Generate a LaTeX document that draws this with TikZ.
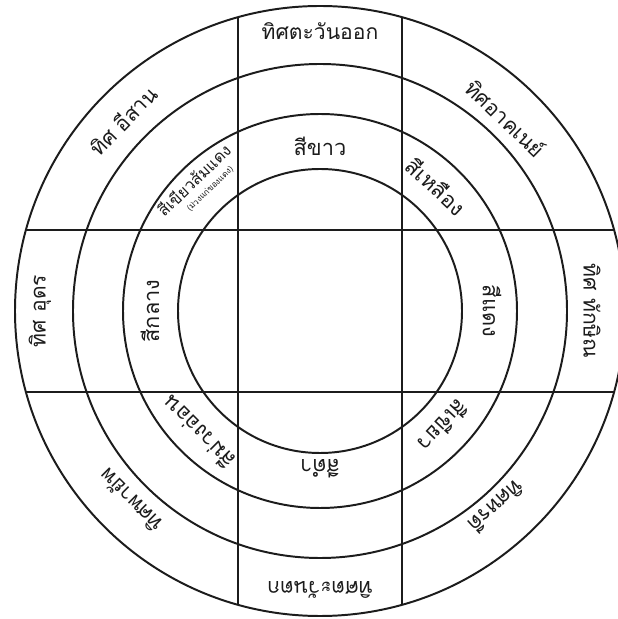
\documentclass[tikz,border=0pt]{standalone}
\usepackage{fontspec}
\newfontfamily\thaifont[Script=Thai]{Loma}
\usetikzlibrary{calc}
\definecolor{inkdark}{HTML}{1C1C1C}

\tikzset{
  ringline/.style={draw=inkdark, line width=1.4pt},
  dirlabel/.style={text=inkdark, font=\thaifont\fontsize{15}{18}\selectfont, inner sep=0pt},
  colorlabel/.style={text=inkdark, font=\thaifont\fontsize{15.5}{18}\selectfont, inner sep=0pt},
  notelabel/.style={text=inkdark, font=\thaifont\fontsize{6}{7}\selectfont, inner sep=0pt}
}

\begin{document}
\begin{tikzpicture}[x=0.025cm, y=0.025cm]
    \useasboundingbox (0,0) rectangle (618,619);
    \clip (0,0) rectangle (618,619);
    \coordinate (c) at (320,308);

    % Rings
    \foreach \r in {305,247,197,142}
        \draw[ringline] (c) circle (\r);

    % Cross lines
    \draw[ringline] ($(c)+(-82,-293.8)$) -- ($(c)+(-82,293.8)$);
    \draw[ringline] ($(c)+(82,-293.8)$) -- ($(c)+(82,293.8)$);
    \draw[ringline] ($(c)+(-294,81)$) -- ($(c)+(294,81)$);
    \draw[ringline] ($(c)+(-294,-81)$) -- ($(c)+(294,-81)$);

    % Directions
    \node[dirlabel] (east) at ($(c)+(90:280)$) {ทิศตะวันออก};
    \node[dirlabel, rotate=-44] (southeast) at ($(c)+(46:268)$) {ทิศอาคเนย์};
    \node[dirlabel, rotate=-90] (south) at ($(c)+(0:272)$) {ทิศ ทักษิณ};
    \node[dirlabel, rotate=-138] (southwest) at ($(c)+(-48:264)$) {ทิศหรดี};
    \node[dirlabel, rotate=180] (west) at ($(c)+(-90:279)$) {ทิศตะวันตก};
    \node[dirlabel, rotate=135] (northwest) at ($(c)+(225:268)$) {ทิศพายัพ};
    \node[dirlabel, rotate=90] (north) at ($(c)+(180:280)$) {ทิศ อุดร};
    \node[dirlabel, rotate=46] (northeast) at ($(c)+(136:274)$) {ทิศ อีสาน};

    % Colours
    \node[colorlabel] (white) at ($(c)+(90:165)$) {สีขาว};
    \node[colorlabel, rotate=-43] (yellow) at ($(c)+(47:171)$) {สีเหลือง};
    \node[colorlabel, rotate=-90] (red) at ($(c)+(0:172)$) {สีแดง};
    \node[colorlabel, rotate=-133] (green) at ($(c)+(-43:169)$) {สีเขียว};
    \node[colorlabel, rotate=180] (black) at ($(c)+(-90:158)$) {สีดำ};
    \node[colorlabel, rotate=135] (purple) at ($(c)+(225:172)$) {สีม่วงอ่อน};
    \node[colorlabel, rotate=90] (middle) at ($(c)+(180:170)$) {สีกลาง};
    \node[colorlabel, rotate=44, font=\thaifont\fontsize{11.5}{13}\selectfont] (mixed) at ($(c)+(134:182)$) {สีเขียวส้มแดง};
    \node[notelabel, rotate=44] (mixnote) at ($(c)+(132:164)$) {(ม่วงแก่ของแดง)};
\end{tikzpicture}
\end{document}
